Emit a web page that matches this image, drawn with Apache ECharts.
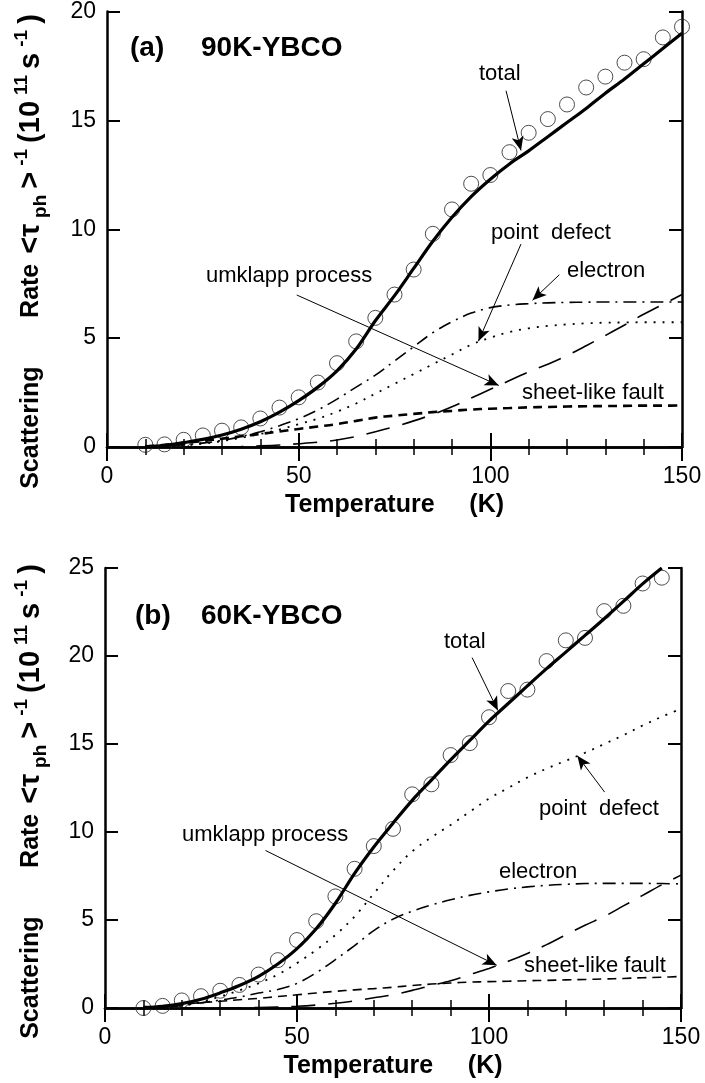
<!DOCTYPE html>
<html><head><meta charset="utf-8">
<script src="https://cdn.jsdelivr.net/npm/echarts@6/dist/echarts.min.js"></script>
<style>html,body{margin:0;padding:0;background:#fff}#c{width:705px;height:1083px}</style>
</head><body><div id="c"></div>
<script>
// ---------- data ----------
const curveT = [10,15,20,25,30,35,40,45,50,55,60,65,70,75,80,85,90,95,100,105,110,115,120,125,130,135,140,145,150];
// panel (a) 90K-YBCO
const totalA    = [0.02,0.07,0.2,0.35,0.55,0.82,1.16,1.6,2.13,2.75,3.5,4.5,5.8,6.95,8.2,9.45,10.55,11.5,12.3,13.0,13.6,14.25,14.9,15.55,16.25,16.9,17.6,18.3,19.0];
const electronA = [0,0.03,0.1,0.18,0.3,0.48,0.7,0.98,1.3,1.7,2.2,2.75,3.3,3.95,4.6,5.25,5.75,6.15,6.4,6.52,6.58,6.62,6.64,6.65,6.66,6.66,6.66,6.66,6.66];
const pointA    = [0,0.02,0.07,0.15,0.27,0.42,0.6,0.8,1.05,1.3,1.62,2.0,2.45,2.9,3.35,3.8,4.25,4.7,5.02,5.28,5.45,5.56,5.63,5.68,5.71,5.72,5.73,5.73,5.73];
const umklappA  = [0,0,0,0,0.01,0.02,0.05,0.09,0.15,0.22,0.32,0.48,0.7,0.93,1.2,1.5,1.85,2.25,2.65,3.05,3.45,3.8,4.2,4.65,5.12,5.6,6.1,6.55,7.0];
const sheetA    = [0.02,0.1,0.18,0.28,0.38,0.49,0.6,0.71,0.83,0.94,1.05,1.2,1.35,1.44,1.52,1.6,1.66,1.72,1.76,1.79,1.82,1.84,1.86,1.87,1.88,1.89,1.9,1.9,1.91];
const expT_A = [10,15,20,25,30,35,40,45,50,55,60,65,70,75,80,85,90,95,100,105,110,115,120,125,130,135,140,145,150];
const expA   = [0.1,0.12,0.33,0.53,0.75,0.9,1.31,1.81,2.28,2.96,3.85,4.85,5.93,7.0,8.15,9.79,10.91,12.09,12.49,13.54,14.43,15.06,15.73,16.51,17.01,17.65,17.81,18.81,19.3];
// panel (b) 60K-YBCO
const totalB    = [0.03,0.1,0.25,0.5,0.86,1.28,1.8,2.5,3.37,4.5,5.95,7.65,9.15,10.5,11.8,12.95,14.1,15.2,16.3,17.3,18.3,19.28,20.22,21.17,22.12,23.1,24.1,25.0,null];
const electronB = [0,0.05,0.15,0.3,0.45,0.62,0.85,1.05,1.4,2.0,2.75,3.55,4.4,5.05,5.5,5.85,6.15,6.4,6.6,6.76,6.88,6.97,7.03,7.07,7.08,7.08,7.08,7.07,7.05];
const pointB    = [0,0.03,0.12,0.35,0.65,1.0,1.4,1.9,2.55,3.3,4.15,5.2,6.5,7.8,8.9,9.7,10.4,11.15,11.9,12.5,13.1,13.6,14.05,14.5,15.0,15.5,16.05,16.55,17.0];
const umklappB  = [0,0,0,0,0,0.01,0.03,0.06,0.1,0.17,0.27,0.4,0.58,0.75,1.0,1.28,1.55,1.9,2.25,2.65,3.1,3.6,4.15,4.7,5.2,5.8,6.4,7.0,7.55];
const sheetB    = [0.03,0.12,0.22,0.3,0.38,0.47,0.55,0.65,0.75,0.85,0.95,1.03,1.1,1.18,1.28,1.36,1.42,1.47,1.5,1.52,1.55,1.57,1.6,1.62,1.65,1.68,1.72,1.75,1.79];
const expT_B = [10,15,20,25,30,35,40,45,50,55,60,65,70,75,80,85,90,95,100,105,110,115,120,125,130,135,140,145];
const expB   = [0,0.12,0.43,0.67,0.98,1.31,1.9,2.72,3.86,4.93,6.34,7.91,9.2,10.18,12.14,12.71,14.37,15.05,16.52,18.01,18.09,19.71,20.89,21.03,22.55,22.85,24.12,24.45];
// axes
const xMin = 0, xMax = 150, xStep = 50;
const yMaxA = 20, yMaxB = 25, yStep = 5;
const xTitle = 'Temperature     (K)';
// annotation arrows (data coordinates: [from, to])
const arrowsA = [[[104.1,16.36],[108.0,13.62]], [[108.0,9.32],[96.9,4.86]], [[118.0,7.91],[111.0,6.74]], [[49.5,6.98],[102.2,2.83]]];
const arrowsB = [[[95.6,19.91],[102.3,16.91]], [[130.1,12.27],[123.0,14.33]], [[41.8,8.95],[102.0,2.43]]];

// ---------- helpers ----------
const zip = (xs, ys) => xs.map((x, i) => [x, ys[i]]).filter(p => p[1] !== null && p[1] !== undefined);
const FONT = 'Liberation Sans';
function xAxes(gi) {
  const common = {gridIndex: gi, type: 'value', min: xMin, max: xMax, interval: xStep,
    axisLine: {lineStyle: {color: '#000', width: 2.5}},
    axisTick: {inside: true, length: 14, lineStyle: {color: '#000', width: 2}},
    minorTick: {show: true, splitNumber: 5, length: 8, lineStyle: {color: '#000', width: 1.5}},
    splitLine: {show: false}, minorSplitLine: {show: false}};
  return [
    Object.assign({}, common, {position: 'bottom',
      axisLabel: {fontFamily: FONT, fontSize: 23, color: '#000', margin: 18},
      name: xTitle, nameLocation: 'middle', nameGap: 46,
      nameTextStyle: {fontFamily: FONT, fontSize: 25, fontWeight: 'bold', color: '#000'}}),
    Object.assign({}, common, {position: 'top', axisLabel: {show: false}})
  ];
}
function yAxes(gi, max) {
  const common = {gridIndex: gi, type: 'value', min: 0, max: max, interval: yStep,
    axisLine: {show: true, onZero: false, lineStyle: {color: '#000', width: 2.5}},
    axisTick: {inside: true, length: 13, lineStyle: {color: '#000', width: 2}},
    splitLine: {show: false}};
  return [
    Object.assign({}, common, {position: 'left',
      axisLabel: {fontFamily: FONT, fontSize: 23, color: '#000', margin: 11, padding: [12, 0, 0, 0]}}),
    Object.assign({}, common, {position: 'right', axisLabel: {show: false}})
  ];
}
function curve(name, gi, ys, style, extra) {
  return Object.assign({name, type: 'line', xAxisIndex: gi * 2, yAxisIndex: gi * 2,
    data: zip(curveT, ys), symbol: 'none', smooth: 0.35, silent: true,
    lineStyle: Object.assign({color: '#000'}, style)}, extra || {});
}
function arrowMarks(list) {
  return {silent: true, symbol: ['none', 'arrow'], symbolSize: 12, label: {show: false},
    emphasis: {disabled: true}, animation: false,
    itemStyle: {color: '#000'},
    lineStyle: {color: '#000', width: 1, type: 'solid'},
    data: list.map(a => [{coord: a[0], symbol: 'none'}, {coord: a[1], symbol: 'arrow', symbolSize: [9, 14]}])};
}
function panel(gi, total, electron, point, umklapp, sheet, expT, exp, arrows, sheetW) {
  return [
    {name: 'data', type: 'scatter', xAxisIndex: gi * 2, yAxisIndex: gi * 2, data: zip(expT, exp),
      symbol: 'circle', symbolSize: 15, silent: true,
      itemStyle: {color: 'rgba(255,255,255,0)', borderColor: '#222', borderWidth: 1}},
    curve('total', gi, total, {width: 3.2, type: 'solid'}, {markLine: arrowMarks(arrows)}),
    curve('electron', gi, electron, {width: 1.6, type: [13, 6, 2, 6]}),
    curve('point defect', gi, point, {width: 1.8, type: [2, 7]}),
    curve('umklapp', gi, umklapp, {width: 1.6, type: [24, 13]}),
    curve('sheet-like fault', gi, sheet, {width: sheetW, type: [9, 6]})
  ];
}
function txt(x, y, s, size, bold) {
  return {type: 'text', x, y, silent: true,
    style: {text: s, fill: '#000', font: (bold ? 'bold ' : '') + size + 'px "' + FONT + '"',
      textAlign: 'left', textVerticalAlign: 'middle', verticalAlign: 'middle'}};
}
function yTitle(x, y) {
  const base = {fontFamily: FONT, fontWeight: 'bold', fill: '#000', color: '#000'};
  return {type: 'text', x, y, rotation: Math.PI / 2, silent: true,
    style: {
      text: '{b|Scattering       Rate }{c|<τ}{sub|ph}{c|>}{sup|-1}{c|(10}{sup|11}{c|s}{sup|-1}{c|)}',
      align: 'center', verticalAlign: 'middle', textAlign: 'center', textVerticalAlign: 'middle',
      rich: {
        b:   Object.assign({fontSize: 25, lineHeight: 38, verticalAlign: 'middle'}, base),
        c:   Object.assign({fontSize: 29, lineHeight: 38, verticalAlign: 'middle', padding: [0, 3, 0, 3]}, base),
        sub: Object.assign({fontSize: 19, lineHeight: 19, verticalAlign: 'bottom', padding: [0, 3, 0, 3]}, base),
        sup: Object.assign({fontSize: 19, lineHeight: 19, verticalAlign: 'top', padding: [0, 3, 0, 3]}, base)
      }}};
}

const chart = echarts.init(document.getElementById('c'), null, {renderer: 'canvas'});
chart.setOption({
  animation: false,
  backgroundColor: '#fff',
  grid: [
    {left: 107, top: 6, width: 575, height: 441},
    {left: 105, top: 568, width: 576, height: 440}
  ],
  xAxis: [].concat(xAxes(0), xAxes(1)),
  yAxis: [].concat(yAxes(0, yMaxA), yAxes(1, yMaxB)),
  series: [].concat(
    panel(0, totalA, electronA, pointA, umklappA, sheetA, expT_A, expA, arrowsA, 2.6),
    panel(1, totalB, electronB, pointB, umklappB, sheetB, expT_B, expB, arrowsB, 1.6)
  ),
  graphic: [
    yTitle(31, 250), yTitle(31, 800),
    txt(130, 48, '(a)', 28, true), txt(201, 48, '90K-YBCO', 28, true),
    txt(479, 74, 'total', 22), txt(491, 233, 'point  defect', 22), txt(567, 271, 'electron', 22),
    txt(206, 276, 'umklapp process', 22), txt(522, 393, 'sheet-like fault', 22),
    txt(135, 616, '(b)', 28, true), txt(201, 616, '60K-YBCO', 28, true),
    txt(444, 642, 'total', 22), txt(539, 809, 'point  defect', 22), txt(499, 872, 'electron', 22),
    txt(182, 835, 'umklapp process', 22), txt(524, 966, 'sheet-like fault', 22)
  ]
});
</script></body></html>
